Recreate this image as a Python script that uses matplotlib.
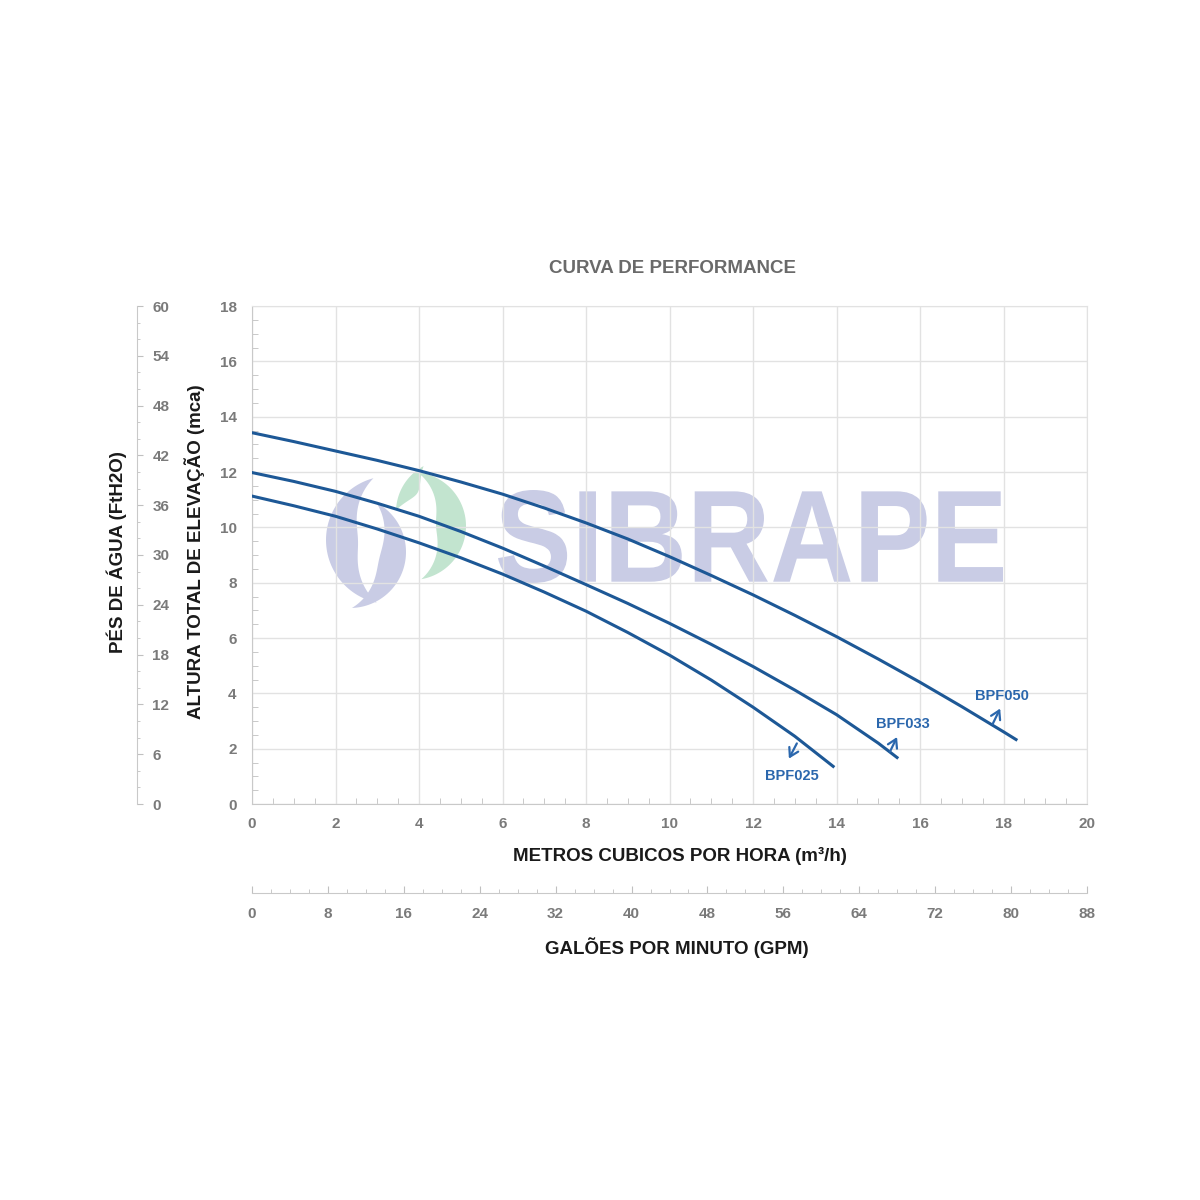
import numpy as np
import matplotlib
matplotlib.use('Agg')
import matplotlib.pyplot as plt
from matplotlib.patches import Polygon, PathPatch
from matplotlib.textpath import TextPath
from matplotlib.font_manager import FontProperties
from matplotlib.transforms import IdentityTransform, Affine2D

plt.rcParams['font.family'] = ['Liberation Sans', 'DejaVu Sans']

# curves (m3/h, mca)
x_050 = [0, 1, 2, 3, 4, 5, 6, 7, 8, 9, 10, 11, 12, 13, 14, 15, 16, 17, 18, 18.3]
y_050 = [13.42, 13.1, 12.76, 12.42, 12.05, 11.64, 11.2, 10.7, 10.16, 9.58,
         8.94, 8.26, 7.56, 6.82, 6.05, 5.24, 4.4, 3.52, 2.61, 2.33]
x_033 = [0, 1, 2, 3, 4, 5, 6, 7, 8, 9, 10, 11, 12, 13, 14, 15, 15.45]
y_033 = [11.98, 11.66, 11.3, 10.87, 10.4, 9.85, 9.25, 8.6, 7.93, 7.25,
         6.53, 5.77, 4.97, 4.12, 3.23, 2.2, 1.68]
x_025 = [0, 1, 2, 3, 4, 5, 6, 7, 8, 9, 10, 11, 12, 13, 13.92]
y_025 = [11.13, 10.78, 10.4, 9.94, 9.44, 8.9, 8.31, 7.66, 6.97, 6.2,
         5.38, 4.48, 3.5, 2.45, 1.36]
names = ['BPF050', 'BPF033', 'BPF025']

gpm_ticks = list(range(0, 89, 8))
ft_ticks = list(range(0, 61, 6))

line_col = '#1d5896'
txt_col = '#2b67ad'
grid_col = '#e2e2e2'
tick_col = '#7a7a7a'
lav = '#c9cce5'
green = '#c2e4cf'

W = H = 1200
fig = plt.figure(figsize=(12, 12), dpi=100)


def fx(px):
    return px / W


def fy(py):
    return 1 - py / H


# main axes
ax = fig.add_axes([fx(252), fy(804), fx(1087 - 252), fy(306) - fy(804)])
ax.patch.set_visible(False)
ax.set_xlim(0, 20)
ax.set_ylim(0, 18)
ax.set_xticks(range(0, 21, 2))
ax.set_yticks(range(0, 19, 2))
ax.set_xticks(np.arange(0, 20.01, 0.5), minor=True)
ax.set_yticks(np.arange(0, 18.01, 0.5), minor=True)
ax.grid(True, which='major', color=grid_col, lw=1)
for s in ax.spines.values():
    s.set_color(grid_col)
ax.spines['left'].set_color('#c9c9c9')
ax.spines['bottom'].set_color('#c9c9c9')
ax.tick_params(which='both', direction='in', color='#c0c0c0')
ax.tick_params(which='major', length=0, labelsize=11, labelcolor=tick_col)
ax.tick_params(which='minor', length=4)
ax.tick_params(axis='x', pad=9)
ax.tick_params(axis='y', pad=11)
for lab in ax.get_xticklabels() + ax.get_yticklabels():
    lab.set_fontweight('bold')

ax.plot(x_050, y_050, color=line_col, lw=2.2, zorder=5)
ax.plot(x_033, y_033, color=line_col, lw=2.2, zorder=5)
ax.plot(x_025, y_025, color=line_col, lw=2.2, zorder=5)

# curve labels with small arrows
lab_pos = [(17.96, 3.9), (15.59, 2.89), (12.93, 1.01)]
arr = [((17.74, 2.89), (17.92, 3.45)), ((15.28, 1.89), (15.45, 2.42)),
       ((13.05, 2.19), (12.86, 1.64))]
for nm, (lx, ly), (a0, a1) in zip(names, lab_pos, arr):
    ax.text(lx, ly, nm, color=txt_col, fontsize=10.5, fontweight='bold',
            ha='center', va='center', zorder=6)
    ax.annotate('', xy=a1, xytext=a0,
                arrowprops=dict(arrowstyle='->,head_length=0.5,head_width=0.3',
                                color=txt_col, lw=1.6, mutation_scale=12,
                                shrinkA=0, shrinkB=0), zorder=6)

# watermark text, fitted into its box in pixel coordinates
tp = TextPath((0, 0), 'SIBRAPE', size=100,
              prop=FontProperties(family='Liberation Sans', weight='bold'))
bb = tp.get_extents()
x0, x1, top, bot = 498, 1003, 490, 583
tr = Affine2D().translate(-bb.x0, -bb.y0).scale((x1 - x0) / bb.width, (bot - top) / bb.height) \
    .translate(x0, H - bot)
fig.patches.append(PathPatch(tr.transform_path(tp), facecolor=lav, edgecolor='none',
                             transform=IdentityTransform(), zorder=-1))


def crescent(cx, cy, R, w, a0, a1, color):
    t = np.linspace(0, 1, 60)
    ang = np.radians(a0 + (a1 - a0) * t)
    r_in = R - w * np.sin(np.pi * t)
    outer = np.c_[cx + R * np.cos(ang), (H - cy) + R * np.sin(ang)]
    inner = np.c_[cx + r_in * np.cos(ang), (H - cy) + r_in * np.sin(ang)][::-1]
    pts = np.vstack([outer, inner])
    fig.patches.append(Polygon(pts, closed=True, facecolor=color, edgecolor='none',
                               transform=IdentityTransform(), zorder=-1))


crescent(390, 540, 64, 32, 105, 258, lav)
crescent(350, 552, 56, 26, 62, -88, lav)
crescent(412, 526, 54, 30, 84, -80, green)
crescent(448, 512, 52, 16, 118, 178, green)

# gpm axis
ax2 = fig.add_axes([fx(252), fy(893), fx(1087 - 252), 0.0001])
ax2.set_xlim(0, 88)
ax2.set_yticks([])
ax2.set_xticks(gpm_ticks)
ax2.set_xticks(range(0, 89, 2), minor=True)
for k in ['top', 'left', 'right']:
    ax2.spines[k].set_visible(False)
ax2.spines['bottom'].set_color('#c9c9c9')
ax2.patch.set_visible(False)
ax2.tick_params(which='both', direction='in', color='#c0c0c0')
ax2.tick_params(which='major', length=5, labelsize=11, labelcolor=tick_col, pad=10)
ax2.tick_params(which='minor', length=3)
for lab in ax2.get_xticklabels():
    lab.set_fontweight('bold')

# feet axis
ax3 = fig.add_axes([fx(137), fy(804), 0.0001, fy(306) - fy(804)])
ax3.set_ylim(0, 60)
ax3.set_xticks([])
ax3.yaxis.tick_right()
ax3.set_yticks(ft_ticks)
ax3.set_yticks(range(0, 61, 2), minor=True)
for k in ['top', 'left', 'bottom']:
    ax3.spines[k].set_visible(False)
ax3.spines['right'].set_color('#c9c9c9')
ax3.patch.set_visible(False)
ax3.tick_params(which='both', direction='out', color='#c0c0c0')
ax3.tick_params(which='major', length=4, labelsize=11, labelcolor=tick_col, pad=7)
ax3.tick_params(which='minor', length=2)
for lab in ax3.get_yticklabels():
    lab.set_fontweight('bold')

# titles
fig.text(fx(672), fy(268), 'CURVA DE PERFORMANCE', color='#6a6a6a', fontsize=13.5,
         fontweight='bold', ha='center', va='center')
fig.text(fx(680), fy(856), 'METROS CUBICOS POR HORA (m³/h)', color='#1a1a1a',
         fontsize=13.5, fontweight='bold', ha='center', va='center')
fig.text(fx(677), fy(948), 'GALÕES POR MINUTO (GPM)', color='#1a1a1a',
         fontsize=13.5, fontweight='bold', ha='center', va='center')
fig.text(fx(195), fy(552), 'ALTURA TOTAL DE ELEVAÇÃO (mca)', color='#1a1a1a',
         fontsize=13.5, fontweight='bold', ha='center', va='center', rotation=90)
fig.text(fx(117), fy(552), 'PÉS DE ÁGUA (FtH2O)', color='#1a1a1a',
         fontsize=13.5, fontweight='bold', ha='center', va='center', rotation=90)

fig.savefig('out.png', dpi=100, facecolor='white')
